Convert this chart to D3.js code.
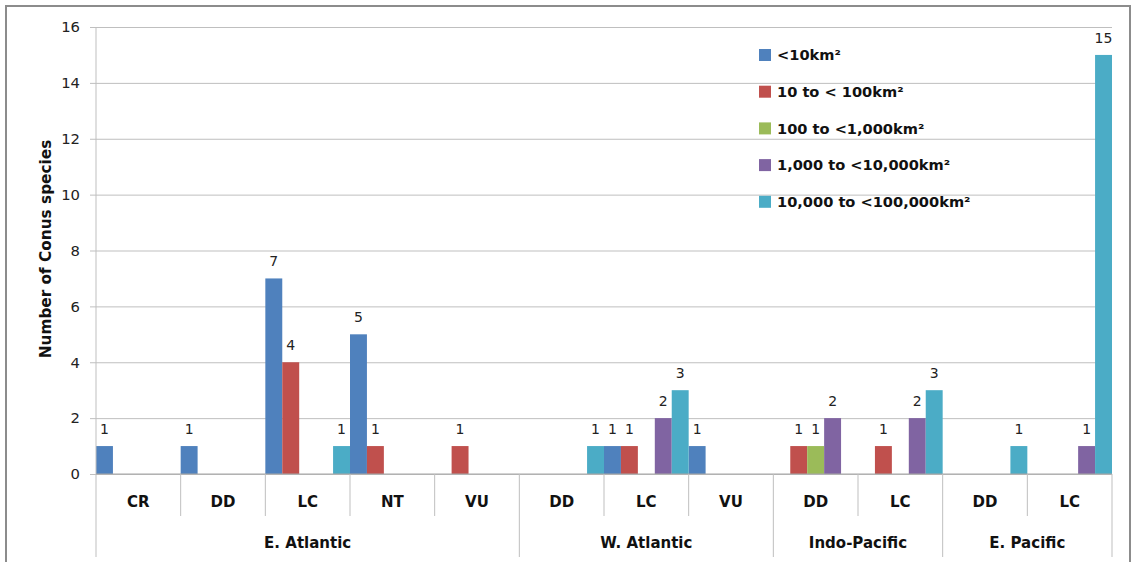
<!DOCTYPE html>
<html><head><meta charset="utf-8">
<script src="https://cdn.jsdelivr.net/npm/d3@7"></script>
<style>body{margin:0;background:#fff;} svg{display:block;} text{font-family:"DejaVu Sans", sans-serif;}</style>
</head><body><svg id="c" width="1133" height="562"></svg>
<script>
const groups = ["E. Atlantic","W. Atlantic","Indo-Pacific","E. Pacific"];
const categories = [
  ["E. Atlantic","CR"],["E. Atlantic","DD"],["E. Atlantic","LC"],["E. Atlantic","NT"],["E. Atlantic","VU"],
  ["W. Atlantic","DD"],["W. Atlantic","LC"],["W. Atlantic","VU"],
  ["Indo-Pacific","DD"],["Indo-Pacific","LC"],
  ["E. Pacific","DD"],["E. Pacific","LC"]
];
const seriesNames = ["<10km²","10 to < 100km²","100 to <1,000km²","1,000 to <10,000km²","10,000 to <100,000km²"];
const s1 = [1,1,7,5,0,0,1,1,0,0,0,0];
const s2 = [0,0,4,1,1,0,1,0,1,1,0,0];
const s3 = [0,0,0,0,0,0,0,0,1,0,0,0];
const s4 = [0,0,0,0,0,0,2,0,2,2,0,1];
const s5 = [0,0,1,0,0,1,3,0,0,3,1,15];
const series = [s1,s2,s3,s4,s5];
const colors = ["#4F81BD","#C0504D","#9BBB59","#8064A2","#4BACC6"];
const yTicks = [0,2,4,6,8,10,12,14,16];

const svg = d3.select("#c");
const L=96, R=1112, T=27, B=474;
const FONT = "'DejaVu Sans', sans-serif";
svg.append("rect").attr("x",6).attr("y",6).attr("width",1124).attr("height",600)
  .attr("fill","#fff").attr("stroke","#8c8c8c").attr("stroke-width",2);

const x0 = d3.scaleBand().domain(d3.range(categories.length)).range([L,R]).padding(0);
const x1 = d3.scaleBand().domain(d3.range(series.length)).range([0,x0.bandwidth()]).padding(0);
const y = d3.scaleLinear().domain([0,16]).range([B,T]);

const yAxis = d3.axisLeft(y).tickValues(yTicks).tickSize(6).tickPadding(10);
const gy = svg.append("g").attr("transform",`translate(${L},0)`).call(yAxis);
gy.select(".domain").remove();
gy.selectAll(".tick line").attr("stroke","#bfbfbf").attr("x2",R-L).attr("x1",-6);
gy.selectAll(".tick text").attr("font-size",14.8).attr("fill","#222").style("font-family",FONT);

const lg = svg.append("g");
seriesNames.forEach((n,i)=>{
  const yy = 55 + i*36.7;
  lg.append("rect").attr("x",759).attr("y",yy-6).attr("width",12).attr("height",12).attr("fill",colors[i]);
  lg.append("text").attr("x",777).attr("y",yy).attr("dy","0.36em").attr("font-size",14.6).attr("font-weight","bold").attr("fill","#111").text(n);
});

series.forEach((s,si)=>{
  const g = svg.append("g");
  s.forEach((v,ci)=>{
    if(!v) return;
    const bx = x0(ci)+x1(si);
    g.append("rect").attr("x",bx).attr("y",y(v)).attr("width",x1.bandwidth()).attr("height",B-y(v)).attr("fill",colors[si]);
    g.append("text").attr("x",bx+x1.bandwidth()/2).attr("y",y(v)-12).attr("text-anchor","middle")
      .attr("font-size",14).attr("fill","#222").text(v);
  });
});

svg.append("line").attr("x1",L).attr("x2",L).attr("y1",T).attr("y2",557).attr("stroke","#bfbfbf");
svg.append("line").attr("x1",L).attr("x2",R).attr("y1",B).attr("y2",B).attr("stroke","#a6a6a6");

categories.forEach((c,i)=>{
  const xe = x0(i)+x0.bandwidth();
  const last = i===categories.length-1 || categories[i+1][0]!==c[0];
  svg.append("line").attr("x1",xe).attr("x2",xe).attr("y1",B).attr("y2",last?557:516).attr("stroke","#bfbfbf");
  svg.append("text").attr("x",x0(i)+x0.bandwidth()/2).attr("y",502).attr("dy","0.36em").attr("text-anchor","middle")
    .attr("font-size",15).attr("font-weight","bold").attr("fill","#111").text(c[1]);
});
groups.forEach(g=>{
  const idx = categories.map((c,i)=>c[0]===g?i:-1).filter(i=>i>=0);
  const xa = x0(idx[0]), xb = x0(idx[idx.length-1])+x0.bandwidth();
  svg.append("text").attr("x",(xa+xb)/2).attr("y",543).attr("dy","0.36em").attr("text-anchor","middle")
    .attr("font-size",15).attr("font-weight","bold").attr("fill","#111").text(g);
});

svg.append("text").attr("transform",`translate(45,249) rotate(-90)`).attr("text-anchor","middle").attr("dy","0.36em")
  .attr("font-size",15.3).attr("font-weight","bold").attr("fill","#111").text("Number of Conus species");
</script></body></html>
